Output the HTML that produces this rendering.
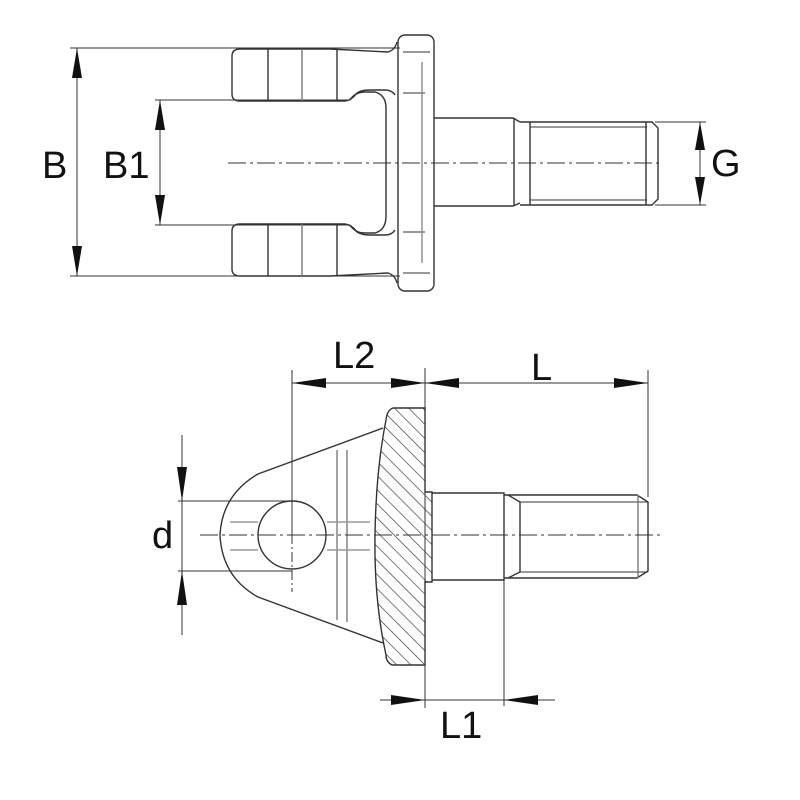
<!DOCTYPE html>
<html><head><meta charset="utf-8"><style>
html,body{margin:0;padding:0;background:#fff;}
svg{display:block;}
text{font-family:"Liberation Sans",sans-serif;font-size:38px;fill:#111;}
</style></head><body>
<svg width="800" height="800" viewBox="0 0 800 800" xmlns="http://www.w3.org/2000/svg">
<defs>
<pattern id="h" patternUnits="userSpaceOnUse" width="10" height="10" patternTransform="rotate(-45)">
<line x1="0" y1="0" x2="0" y2="10" stroke="#333" stroke-width="1.3"/>
</pattern>
</defs>
<g fill="none" stroke="#333" stroke-width="1.4">
<line x1="70" y1="48" x2="400" y2="48" stroke-width="1"/>
<line x1="70" y1="276" x2="400" y2="276" stroke-width="1"/>
<line x1="77" y1="48" x2="77" y2="276" stroke-width="1"/>
<line x1="155" y1="100" x2="350" y2="100" stroke-width="1"/>
<line x1="155" y1="225" x2="350" y2="225" stroke-width="1"/>
<line x1="160" y1="100" x2="160" y2="225" stroke-width="1"/>
<line x1="655" y1="122" x2="706" y2="122" stroke-width="1"/>
<line x1="655" y1="205" x2="706" y2="205" stroke-width="1"/>
<line x1="700" y1="122" x2="700" y2="205" stroke-width="1"/>
<path d="M240,49 H330 L388,52 Q395,50 397,42 M240,49 Q232,49 232,56 V94 Q232,101 240,101 H345 Q352,100 356,94 Q360,90 370,90 H385 Q392,90 395,95"/>
<line x1="268" y1="49" x2="268" y2="101"/>
<line x1="302" y1="49" x2="302" y2="101" stroke="#777"/>
<line x1="337" y1="49" x2="337" y2="101"/>
<path d="M240,276 H330 L388,273 Q395,275 397,283 M240,276 Q232,276 232,269 V231 Q232,224 240,224 H345 Q352,225 356,231 Q360,235 370,235 H385 Q392,235 395,230"/>
<line x1="268" y1="224" x2="268" y2="276"/>
<line x1="302" y1="224" x2="302" y2="276" stroke="#777"/>
<line x1="337" y1="224" x2="337" y2="276"/>
<path d="M350,100 Q355,92 365,92 H375 Q386,95 386,108 V216 Q386,230 375,233 H365 Q355,233 350,225"/>
<rect x="398" y="35" width="36" height="256" rx="7"/>
<line x1="403" y1="52" x2="430" y2="52" stroke-width="1"/>
<line x1="403" y1="273" x2="430" y2="273" stroke-width="1"/>
<line x1="403" y1="93" x2="425" y2="93" stroke-width="1"/>
<line x1="403" y1="232" x2="425" y2="232" stroke-width="1"/>
<line x1="422" y1="62" x2="422" y2="263" stroke="#888"/>
<path d="M434,118 L440,118 H513 L520,122 M434,206 H513 L520,203"/>
<line x1="514" y1="118" x2="514" y2="206"/>
<path d="M520,122 H652 L658,128 V199 L652,205 H520"/>
<line x1="530" y1="122" x2="530" y2="205"/>
<line x1="530" y1="127" x2="647" y2="127" stroke-width="1"/>
<line x1="530" y1="200" x2="647" y2="200" stroke-width="1"/>
<line x1="646" y1="122" x2="646" y2="205"/>
<line x1="228" y1="163" x2="662" y2="163" stroke-width="1" stroke-dasharray="18,4,3,4"/>

<line x1="292" y1="370" x2="292" y2="534" stroke-width="1"/>
<line x1="425" y1="368" x2="425" y2="708" stroke-width="1"/>
<line x1="648" y1="370" x2="648" y2="497" stroke-width="1"/>
<line x1="292" y1="383" x2="648" y2="383" stroke-width="1"/>
<line x1="504" y1="580" x2="504" y2="706" stroke-width="1"/>
<line x1="380" y1="700" x2="555" y2="700" stroke-width="1"/>
<line x1="182" y1="435" x2="182" y2="635" stroke-width="1"/>
<line x1="178" y1="501" x2="292" y2="501" stroke-width="1"/>
<line x1="178" y1="571" x2="292" y2="571" stroke-width="1"/>
<path d="M383,428 L258,474 Q222,495 220,535 Q222,577 258,597 L383,643"/>
<circle cx="292" cy="535" r="34"/>
<line x1="230" y1="522" x2="258" y2="522" stroke="#999"/>
<line x1="230" y1="550" x2="258" y2="550" stroke="#999"/>
<line x1="327" y1="522" x2="370" y2="522" stroke="#999"/>
<line x1="327" y1="550" x2="370" y2="550" stroke="#999"/>
<line x1="337" y1="450" x2="337" y2="620" stroke="#999" stroke-width="1.8"/>
<line x1="347" y1="450" x2="347" y2="622" stroke="#999" stroke-width="1.8"/>
<path d="M393,408 H425 V492 H432 V582 H425 V665 H392 Q386,662 386,655 Q374,600 375,535 Q376,470 386,420 Q387,410 393,408 Z" fill="url(#h)"/>
<path d="M432,493 H504 V580 H432"/>
<path d="M504,495 H637 L648,502 V571 L637,578 H504"/>
<path d="M508,495 L520,502 V572 L508,578"/>
<line x1="520" y1="502" x2="648" y2="502" stroke-width="1"/>
<line x1="520" y1="572" x2="648" y2="572" stroke-width="1"/>
<line x1="638" y1="495" x2="638" y2="578" stroke="#777"/>
<line x1="200" y1="535" x2="662" y2="535" stroke-width="1" stroke-dasharray="18,4,3,4"/>
<line x1="292" y1="480" x2="292" y2="592" stroke-width="1" stroke-dasharray="10,3,2,3"/>
</g>
<g fill="#111">
<polygon points="77,48 72,78 82,78"/><polygon points="77,276 72,246 82,246"/>
<polygon points="160,100 155,130 165,130"/><polygon points="160,225 155,195 165,195"/>
<polygon points="700,122 695,150 705,150"/><polygon points="700,205 695,177 705,177"/>
<polygon points="292,383 326,378 326,388"/><polygon points="425,383 391,378 391,388"/>
<polygon points="425,383 459,378 459,388"/><polygon points="648,383 614,378 614,388"/>
<polygon points="425,700 391,695 391,705"/><polygon points="504,700 538,695 538,705"/>
<polygon points="182,501 177,467 187,467"/><polygon points="182,571 177,605 187,605"/>
</g>
<text x="42" y="178">B</text>
<text x="103" y="178">B1</text>
<text x="711" y="176">G</text>
<text x="333" y="368">L2</text>
<text x="531" y="380">L</text>
<text x="440" y="738">L1</text>
<text x="152" y="548">d</text>
</svg>
</body></html>
